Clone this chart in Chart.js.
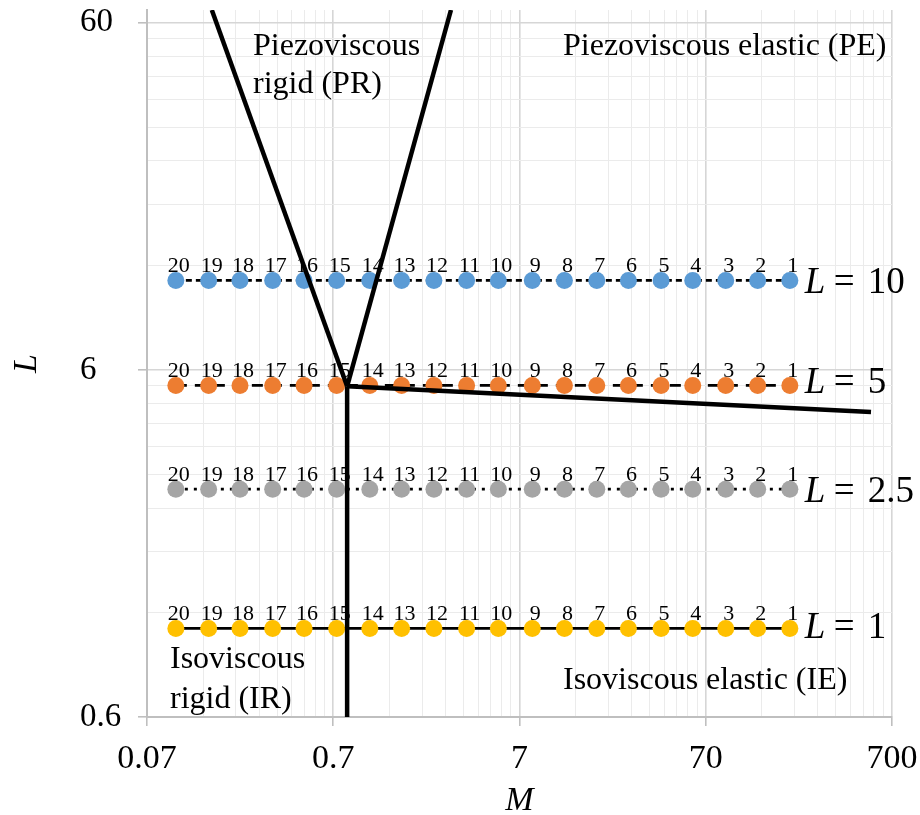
<!DOCTYPE html>
<html>
<head>
<meta charset="utf-8">
<script src="https://cdn.jsdelivr.net/npm/chart.js@4.4.1/dist/chart.umd.min.js"></script>
<style>
html,body{margin:0;padding:0;background:#fff;}
#wrap{width:920px;height:815px;position:relative;}
</style>
</head>
<body>
<div id="wrap"><canvas id="c" width="920" height="815"></canvas></div>
<script>
// ---------- DATA ----------
const caseLabels = ['20','19','18','17','16','15','14','13','12','11','10','9','8','7','6','5','4','3','2','1'];
const mValues = [0.100,0.150,0.221,0.331,0.488,0.730,1.10,1.63,2.43,3.64,5.39,8.20,12.2,18.2,26.9,40.3,59.6,89.6,133,198];
const lRow10  = [10.86,10.86,10.86,10.86,10.86,10.86,10.86,10.86,10.86,10.86,10.86,10.86,10.86,10.86,10.86,10.86,10.86,10.86,10.86,10.86];
const lRow5   = [5.41,5.41,5.41,5.41,5.41,5.41,5.41,5.41,5.41,5.41,5.41,5.41,5.41,5.41,5.41,5.41,5.41,5.41,5.41,5.41];
const lRow2p5 = [2.72,2.72,2.72,2.72,2.72,2.72,2.72,2.72,2.72,2.72,2.72,2.72,2.72,2.72,2.72,2.72,2.72,2.72,2.72,2.72];
const lRow1   = [1.08,1.08,1.08,1.08,1.08,1.08,1.08,1.08,1.08,1.08,1.08,1.08,1.08,1.08,1.08,1.08,1.08,1.08,1.08,1.08];
const seriesNames = ['L = 10','L = 5','L = 2.5','L = 1'];
const seriesEndNumbers = ['10','5','2.5','1'];

// regime boundary lines (M, L)
const bndLeftM  = [0.156, 0.831];  const bndLeftL  = [65.3, 5.38];
const bndRightM = [0.831, 3.0];    const bndRightL = [5.38, 65.3];
const bndVertM  = [0.831, 0.831];  const bndVertL  = [5.38, 0.6];
const bndSlopeM = [0.831, 540];    const bndSlopeL = [5.38, 4.54];

const xTickValues = [0.07, 0.7, 7, 70, 700];
const xTickLabels = ['0.07','0.7','7','70','700'];
const yTickValues = [0.6, 6, 60];
const yTickLabels = ['0.6','6','60'];
const xAxisTitle = 'M';
const yAxisTitle = 'L';
const regionTexts = {
  PR: ['Piezoviscous','rigid (PR)'],
  PE: ['Piezoviscous elastic (PE)'],
  IR: ['Isoviscous','rigid (IR)'],
  IE: ['Isoviscous elastic (IE)']
};

// ---------- helpers ----------
const serif = '"Liberation Serif", "Times New Roman", Times, serif';
function pts(xs, ys){ return xs.map((x,i)=>({x:x, y:ys[i]})); }
function minorGrid(majors){
  const out = [];
  for (let i=0;i<majors.length-1;i++){
    for (let k=1;k<=9;k++) out.push(majors[i]*k);
  }
  out.push(majors[majors.length-1]);
  return out;
}
function idxOf(v, arr){ return arr.findIndex(t => Math.abs(Math.log10(t)-Math.log10(v))<1e-6); }
function isMajor(v, arr){ return idxOf(v, arr) >= 0; }

const seriesStyles = [
  {color:'#5B9BD5', dash:[6,4], dy:13},
  {color:'#ED7D31', dash:[11,8], dy:8},
  {color:'#A5A5A5', dash:[3,6], dy:12.5},
  {color:'#FFC000', dash:[], dy:10}
];
const seriesRows = [lRow10, lRow5, lRow2p5, lRow1];

function bnd(label, xs, ys){
  return {label:label, data:pts(xs,ys), showLine:true, borderColor:'#000', borderWidth:4.5,
          pointRadius:0, pointHoverRadius:0, fill:false, borderCapStyle:'butt', clip:0};
}

const datasets = [
  bnd('boundary PR-left', bndLeftM, bndLeftL),
  bnd('boundary PR-right', bndRightM, bndRightL),
  bnd('boundary IR', bndVertM, bndVertL),
  bnd('boundary IE', bndSlopeM, bndSlopeL)
];
seriesRows.forEach((row, i) => {
  const st = seriesStyles[i];
  datasets.push({
    label: seriesNames[i], data: pts(mValues, row), showLine:true,
    borderColor:'#000', borderWidth:2.75, borderDash: st.dash,
    pointRadius:8.5, pointHoverRadius:8.5, pointBorderWidth:0,
    pointBackgroundColor: st.color, pointBorderColor: st.color,
    fill:false, caseLabels:true, seriesIndex:i
  });
});

// ---------- plugins ----------
const bgPlugin = {
  id:'bg',
  beforeDraw(chart){
    const c = chart.ctx; c.save(); c.fillStyle='#fff'; c.fillRect(0,0,chart.width,chart.height); c.restore();
  }
};
const caseLabelPlugin = {
  id:'caseLabelPlugin',
  afterDatasetDraw(chart, args){
    const ds = chart.data.datasets[args.index];
    if (!ds.caseLabels) return;
    const c = chart.ctx;
    c.save();
    c.font = '22px ' + serif; c.fillStyle = '#000'; c.textAlign='center'; c.textBaseline='alphabetic';
    args.meta.data.forEach((el, i) => { c.fillText(caseLabels[i], el.x + 3, el.y - 8.5); });
    c.restore();
  }
};
const annotPlugin = {
  id:'annot',
  afterDraw(chart){
    const c = chart.ctx, a = chart.chartArea;
    const xs = chart.scales.x, ys = chart.scales.y;
    c.save();
    c.fillStyle = '#000'; c.textBaseline='alphabetic'; c.textAlign='left';
    // series end labels
    seriesRows.forEach((row, i) => {
      const x0 = xs.getPixelForValue(mValues[mValues.length-1]) + 15;
      const y0 = ys.getPixelForValue(row[row.length-1]) + seriesStyles[i].dy;
      c.font = 'italic 37px ' + serif; c.fillText('L', x0, y0);
      c.font = '37px ' + serif; c.fillText('=', x0 + 29, y0); c.fillText(seriesEndNumbers[i], x0 + 63, y0);
    });
    // regime texts
    c.font = '32px ' + serif;
    c.fillText(regionTexts.PR[0], a.left + 106, a.top + 45);
    c.fillText(regionTexts.PR[1], a.left + 106, a.top + 83);
    c.fillText(regionTexts.PE[0], a.left + 416, a.top + 45);
    c.fillText(regionTexts.IR[0], a.left + 23, a.bottom - 49);
    c.fillText(regionTexts.IR[1], a.left + 23, a.bottom - 9);
    c.fillText(regionTexts.IE[0], a.left + 416, a.bottom - 28);
    c.restore();
  }
};

const xGrid = minorGrid(xTickValues);
const yGrid = minorGrid(yTickValues);

function gridOpts(majors){
  return {
    color: c => (c.tick && isMajor(c.tick.value, majors)) ? '#d6d6d6' : '#ebebeb',
    lineWidth: c => (c.tick && isMajor(c.tick.value, majors)) ? 1.6 : 1,
    tickColor: c => (c.tick && isMajor(c.tick.value, majors)) ? '#bfbfbf' : 'rgba(0,0,0,0)',
    tickWidth: 1.6,
    tickLength: 9,
    drawTicks: true,
    drawOnChartArea: true
  };
}

new Chart(document.getElementById('c'), {
  type: 'scatter',
  data: { datasets: datasets },
  options: {
    responsive:false, animation:false, devicePixelRatio:1,
    layout:{padding:{left:80, right:28, top:10, bottom:0}},
    plugins:{legend:{display:false}, tooltip:{enabled:false}},
    events: [],
    scales:{
      x:{
        type:'logarithmic', position:'bottom', min:0.07, max:700,
        afterBuildTicks: s => { s.ticks = xGrid.map(v => ({value:v})); },
        afterFit: s => { s.height = 98; s.paddingLeft = 0; s.paddingRight = 0; },
        ticks:{autoSkip:false, maxRotation:0, minRotation:0, padding:13, color:'#000',
               font:{family:serif, size:34},
               callback: v => { const i = idxOf(v, xTickValues); return i>=0 ? xTickLabels[i] : ''; }},
        grid: gridOpts(xTickValues),
        border:{display:true, color:'#bfbfbf', width:2},
        title:{display:true, text:xAxisTitle, color:'#000',
               font:{family:serif, size:34, style:'italic'}, padding:{top:0, bottom:-6}}
      },
      y:{
        type:'logarithmic', position:'left', min:0.6, max:65.3,
        afterBuildTicks: s => { s.ticks = yGrid.map(v => ({value:v})); },
        afterFit: s => { s.width = 67; s.paddingTop = 0; s.paddingBottom = 0; },
        ticks:{autoSkip:false, crossAlign:'far', padding:10, color:'#000',
               font:{family:serif, size:33},
               callback: v => { const i = idxOf(v, yTickValues); return i>=0 ? yTickLabels[i] : ''; }},
        grid: gridOpts(yTickValues),
        border:{display:true, color:'#bfbfbf', width:2},
        title:{display:true, text:yAxisTitle, color:'#000',
               font:{family:serif, size:34, style:'italic'}, padding:{top:-73, bottom:0}}
      }
    }
  },
  plugins:[bgPlugin, caseLabelPlugin, annotPlugin]
});
</script>
</body>
</html>
